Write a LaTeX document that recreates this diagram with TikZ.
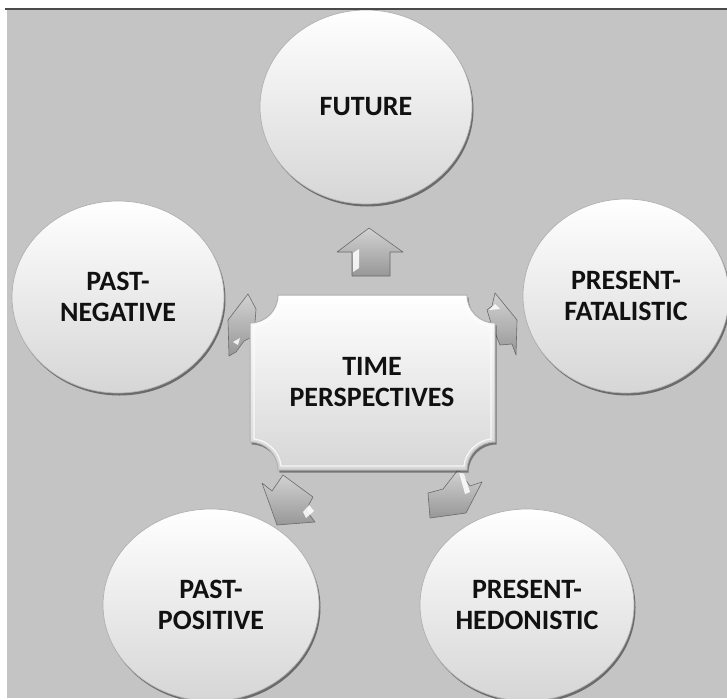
\documentclass[tikz,border=0pt]{standalone}
\usepackage{fontspec}
\setmainfont{Carlito}
\usetikzlibrary{shapes.geometric,shadows}

\definecolor{canvasgray}{HTML}{C4C4C4}
\definecolor{rimgray}{HTML}{B0B0B0}
\definecolor{lowgray}{HTML}{D6D6D6}
\definecolor{midwhite}{HTML}{F6F6F6}
\definecolor{inkgray}{HTML}{111111}
\definecolor{arrowlight}{HTML}{D2D2D2}
\definecolor{arrowdark}{HTML}{979797}
\definecolor{arrowedge}{HTML}{6A6A6A}
\definecolor{frameline}{HTML}{4A4A4A}

\tikzset{
  bubble/.style={ellipse, draw=rimgray, line width=.7pt,
    top color=white, middle color=midwhite, bottom color=lowgray,
    drop shadow={shadow xshift=1.5pt, shadow yshift=-2.5pt, fill=black, opacity=.45},
    align=center, text=inkgray, inner sep=0pt,
    font=\bfseries\fontsize{28}{31}\selectfont},
  hubtext/.style={align=center, text=inkgray, inner sep=0pt,
    font=\bfseries\fontsize{28}{31}\selectfont},
  plaque/.style={draw=rimgray, line width=1pt, top color=white, bottom color=lowgray,
    drop shadow={shadow xshift=1.5pt, shadow yshift=-2.5pt, fill=black, opacity=.4}},
  plaquebevel/.style={draw=white, line width=1.2pt, opacity=.8},
  blockarrow/.style={draw=arrowedge, line width=.6pt, line join=round,
    top color=arrowlight, bottom color=arrowdark},
  gleam/.style={fill=white, opacity=.85}
}

\begin{document}
\begin{tikzpicture}[x=1pt,y=-1pt]
\useasboundingbox (0,0) rectangle (727,699);
\fill[white] (0,0) rectangle (727,699);
\fill[canvasgray] (7,10) rectangle (727,698);

\begin{scope}
\clip (7,10) rectangle (727,698);
% outer perspectives
\node[bubble, minimum width=212pt, minimum height=194pt] (future) at (366,107) {FUTURE};
\node[bubble, minimum width=212pt, minimum height=192pt] (pastneg) at (118,297) {PAST-\\NEGATIVE};
\node[bubble, minimum width=206pt, minimum height=194pt] (presfat) at (626,296) {PRESENT-\\FATALISTIC};
\node[bubble, minimum width=216pt, minimum height=192pt] (pastpos) at (211,605) {PAST-\\POSITIVE};
\node[bubble, minimum width=214pt, minimum height=192pt] (preshed) at (527,605) {PRESENT-\\HEDONISTIC};

% arrows pointing out of the centre
% up
\draw[blockarrow] (369,228) -- (403,252) -- (390,252) -- (390,276) -- (352,276)
  -- (352,252) -- (337,252) -- cycle;
\fill[gleam] (353,253) -- (359,249) -- (359,268) -- (353,272) -- cycle;
% upper left
\draw[blockarrow] (248,294) -- (256,309) -- (254,336) -- (244,341) -- (236,352)
  -- (229,356) -- (228,320) -- cycle;
\fill[gleam] (233,342) -- (240,338) -- (238,345) -- cycle;
% upper right
\draw[blockarrow] (495,293) -- (517,320) -- (516,355) -- (512,344) -- (500,345)
  -- (491,323) -- (487,310) -- (492,306) -- cycle;
\fill[gleam] (489,310) -- (495,304) -- (500,309) -- cycle;
% lower left
\draw[blockarrow] (277,525) -- (262,483) -- (272,491) -- (283,475) -- (313,497)
  -- (306,510) -- (315,522) -- cycle;
\fill[gleam] (303,512) -- (309,505) -- (314,511) -- (306,518) -- cycle;
% lower right
\draw[blockarrow] (430,518) -- (428,493) -- (443,489) -- (458,470) -- (470,486)
  -- (482,482) -- (466,513) -- cycle;
\fill[gleam] (459,472) -- (464,474) -- (470,492) -- (465,494) -- cycle;

% centre plaque with concave corners
\path[plaque] (278,295) -- (467,295)
  .. controls (467,310.5) and (479.5,323) .. (495,323) -- (495,442)
  .. controls (479.5,442) and (467,454.5) .. (467,470) -- (278,470)
  .. controls (278,454.5) and (265.5,442) .. (250,442) -- (250,323)
  .. controls (265.5,323) and (278,310.5) .. (278,295) -- cycle;
% inner bevel highlight
\draw[plaquebevel] (281,299) -- (464,299)
  .. controls (465,313) and (478,325) .. (491,326) -- (491,439)
  .. controls (478,440) and (465,452) .. (464,466) -- (281,466)
  .. controls (280,452) and (267,440) .. (254,439) -- (254,326)
  .. controls (267,325) and (280,313) .. (281,299) -- cycle;
\node[hubtext] (hub) at (372,382) {TIME\\PERSPECTIVES};
\end{scope}

\draw[frameline, line width=1.6pt] (5,9) -- (727,9);
\end{tikzpicture}
\end{document}
